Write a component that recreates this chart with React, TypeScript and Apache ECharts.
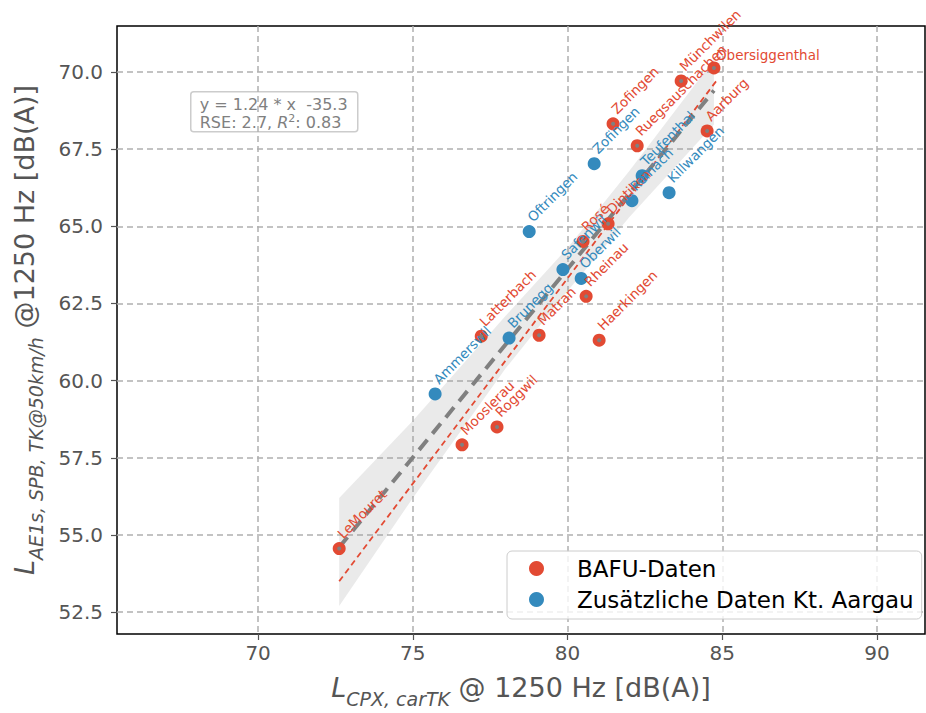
import React, { useEffect, useRef } from "react";
import * as echarts from "echarts";

const FONT = "DejaVu Sans";

// axis ranges and ticks
const xRange = [65.44, 91.55];
const yRange = [51.79, 71.49];
const xTicks = [70, 75, 80, 85, 90];
const yTicks = [52.5, 55, 57.5, 60, 62.5, 65, 67.5, 70];

// BAFU data (red)
const bafuNames = [
  "LeMouret", "Mooslerau", "Roggwil", "Latterbach", "Matran", "Rheinau", "Haerkingen",
  "Rosé", "Dintikon", "Zofingen", "Ruegsauschachen", "Münchwilen", "Obersiggenthal", "Aarburg",
];
const bafuX = [72.62, 76.59, 77.72, 77.21, 79.08, 80.6, 81.02, 80.5, 81.31, 81.47, 82.25, 83.67, 84.73, 84.51];
const bafuY = [54.56, 57.92, 58.5, 61.44, 61.47, 62.73, 61.31, 64.51, 65.08, 68.32, 67.61, 69.71, 70.13, 68.09];
// labels drawn horizontally instead of at 45°
const flatLabels = ["Obersiggenthal"];

// Additional data Kt. Aargau (blue)
const aargauNames = [
  "Ammerswil", "Brunegg", "Safenwil", "Oberwil", "Oftringen", "Zofingen", "Reinach", "Teufenthal", "Killwangen",
];
const aargauX = [75.72, 78.11, 79.85, 80.44, 78.76, 80.86, 82.08, 82.41, 83.28];
const aargauY = [59.57, 61.38, 63.6, 63.31, 64.83, 67.03, 65.83, 66.64, 66.09];

// regression line (all data) and confidence band
const fitX = [72.62, 84.73];
const fitY = [54.6, 69.4];
const bandX = [72.62, 75, 78, 80, 82, 84.73];
const bandLow = [52.7, 56.2, 60.4, 62.9, 65.3, 68.3];
const bandHigh = [56.2, 58.7, 62.1, 64.3, 66.8, 70.4];

// second (red dashed) fit line
const redFitX = [72.62, 84.8];
const redFitY = [53.5, 69.7];

const RED = "#E24A33";
const BLUE = "#348ABD";
const GREY = "#808080";
const AXIS_TXT = "#555555";

export default function App() {
  const ref = useRef<HTMLDivElement>(null);

  useEffect(() => {
    if (!ref.current) return;
    const chart = echarts.init(ref.current, undefined, { renderer: "svg" });

    const bandData = bandX.map((x, i) => [x, bandLow[i], bandHigh[i]]);

    const pointLabel = (color: string) => ({
      show: true,
      formatter: "{b}",
      position: [12, -1],
      align: "left",
      verticalAlign: "bottom",
      rotate: 45,
      fontSize: 13.5,
      fontFamily: FONT,
      color,
    });

    const makeItems = (names: string[], xs: number[], ys: number[]) =>
      names.map((n, i) => {
        const item: any = { name: n, value: [xs[i], ys[i]] };
        if (flatLabels.includes(n)) item.label = { rotate: 0, position: [8.5, 0.5] };
        return item;
      });

    const nameRich = {
      l: { fontSize: 27, fontStyle: "italic", color: AXIS_TXT, fontFamily: FONT, verticalAlign: "bottom", padding: [0, 0, 7, 0] },
      s: { fontSize: 19, fontStyle: "italic", color: AXIS_TXT, fontFamily: FONT, verticalAlign: "bottom" },
      n: { fontSize: 27, color: AXIS_TXT, fontFamily: FONT, verticalAlign: "bottom", padding: [0, 0, 7, 0] },
    };

    const option: any = {
      animation: false,
      backgroundColor: "#ffffff",
      textStyle: { fontFamily: FONT },
      grid: {
        left: 117,
        right: 1,
        top: 26,
        bottom: 77,
        show: true,
        borderColor: "#000000",
        borderWidth: 1.5,
        backgroundColor: "transparent",
      },
      xAxis: {
        type: "value",
        min: xRange[0],
        max: xRange[1],
        name: "{l|L}{s|CPX, carTK}{n| @ 1250 Hz [dB(A)]}",
        nameLocation: "middle",
        nameGap: 40,
        nameTextStyle: { rich: nameRich },
        axisLine: { show: false },
        axisTick: { show: true, customValues: xTicks, length: 6, lineStyle: { color: AXIS_TXT, width: 1.2 } },
        axisLabel: {
          customValues: xTicks,
          fontSize: 20,
          color: AXIS_TXT,
          fontFamily: FONT,
          margin: 9,
          formatter: (v: number) => String(v),
        },
        splitLine: { show: true, lineStyle: { color: "#b0b0b0", width: 1.5, type: [6, 4] } },
      },
      yAxis: {
        type: "value",
        min: yRange[0],
        max: yRange[1],
        name: "{l|L}{s|AE1s, SPB, TK@50km/h}{n| @1250 Hz [dB(A)]}",
        nameLocation: "middle",
        nameRotate: 90,
        nameGap: 72,
        nameTextStyle: { rich: nameRich },
        axisLine: { show: false },
        axisTick: { show: true, customValues: yTicks, length: 6, lineStyle: { color: AXIS_TXT, width: 1.2 } },
        axisLabel: {
          customValues: yTicks,
          fontSize: 20,
          color: AXIS_TXT,
          fontFamily: FONT,
          margin: 14,
          formatter: (v: number) => v.toFixed(1),
        },
        splitLine: { show: true, lineStyle: { color: "#b0b0b0", width: 1.5, type: [6, 4] } },
      },
      legend: {
        data: ["BAFU-Daten", "Zusätzliche Daten Kt. Aargau"],
        orient: "vertical",
        left: 507,
        top: 551,
        backgroundColor: "rgba(255,255,255,0.8)",
        borderColor: "#cccccc",
        borderWidth: 1,
        borderRadius: 5,
        padding: [6, 8, 8, 22],
        itemWidth: 15,
        itemHeight: 15,
        itemGap: 8,
        icon: "circle",
        textStyle: { fontSize: 23, color: "#000000", fontFamily: FONT, padding: [0, 0, 0, 28] },
      },
      graphic: [
        {
          type: "group",
          left: 190,
          top: 91,
          z: 100,
          children: [
            {
              type: "rect",
              shape: { x: 0, y: 0, width: 167, height: 40, r: 3 },
              style: { fill: "rgba(255,255,255,0.6)", stroke: "#cccccc", lineWidth: 1.5 },
            },
            {
              type: "text",
              x: 9,
              y: 3,
              style: {
                text: "{a|y = 1.24 * x  -35.3}\n{a|RSE: 2.7, }{i|R}{p|2}{a|: 0.83}",
                fill: GREY,
                font: `16px ${FONT}`,
                rich: {
                  a: { fontSize: 16, fill: GREY, fontFamily: FONT, lineHeight: 18, verticalAlign: "bottom" },
                  i: { fontSize: 16, fill: GREY, fontFamily: FONT, fontStyle: "italic", lineHeight: 18, verticalAlign: "bottom" },
                  p: { fontSize: 11, fill: GREY, fontFamily: FONT, lineHeight: 18, verticalAlign: "top" },
                },
              },
            },
          ],
        },
      ],
      series: [
        {
          type: "custom",
          name: "band",
          silent: true,
          z: 1,
          encode: { x: 0, y: [1, 2] },
          data: bandData,
          renderItem: (params: any, api: any) => {
            if (params.dataIndex !== 0) return null;
            const upper = bandData.map((d) => api.coord([d[0], d[2]]));
            const lower = bandData.map((d) => api.coord([d[0], d[1]])).reverse();
            return {
              type: "polygon",
              shape: { points: upper.concat(lower) },
              style: { fill: "rgba(150,150,150,0.2)" },
            };
          },
        },
        {
          type: "line",
          name: "redfit",
          silent: true,
          z: 2,
          showSymbol: false,
          data: redFitX.map((x, i) => [x, redFitY[i]]),
          lineStyle: { color: RED, width: 1.8, type: [6, 4] },
        },
        {
          type: "line",
          name: "fit",
          silent: true,
          z: 3,
          showSymbol: false,
          data: fitX.map((x, i) => [x, fitY[i]]),
          lineStyle: { color: GREY, width: 4, type: [13, 8] },
        },
        {
          type: "scatter",
          name: "BAFU-Daten",
          z: 4,
          symbolSize: 13,
          itemStyle: { color: RED, opacity: 1 },
          data: makeItems(bafuNames, bafuX, bafuY),
          label: pointLabel(RED),
        },
        {
          type: "scatter",
          name: "Zusätzliche Daten Kt. Aargau",
          z: 4,
          symbolSize: 13,
          itemStyle: { color: BLUE, opacity: 1 },
          data: makeItems(aargauNames, aargauX, aargauY),
          label: pointLabel(BLUE),
        },
        {
          type: "scatter",
          name: "centers",
          z: 5,
          silent: true,
          symbolSize: 4,
          itemStyle: { color: GREY, opacity: 1 },
          data: bafuX.map((x, i) => [x, bafuY[i]]),
        },
      ],
    };

    chart.setOption(option);
    return () => chart.dispose();
  }, []);

  return (
    <div
      ref={ref}
      style={{ position: "fixed", left: 0, top: 0, width: 926, height: 713, background: "#fff" }}
    />
  );
}
